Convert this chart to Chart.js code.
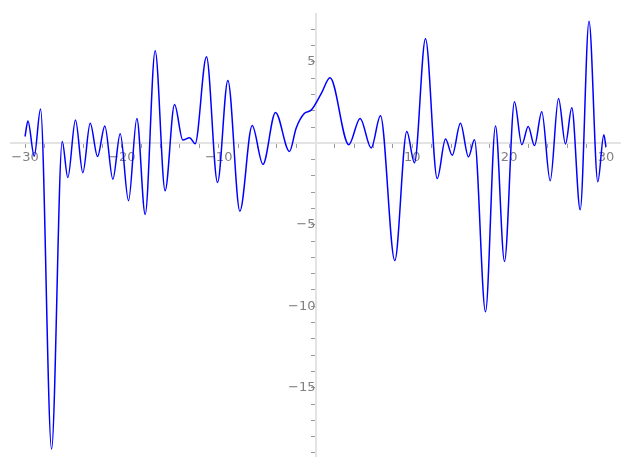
<!DOCTYPE html>
<html>
<head>
<meta charset="utf-8">
<script src="https://cdn.jsdelivr.net/npm/chart.js@4/dist/chart.umd.min.js"></script>
<style>
    html, body { margin: 0; padding: 0; background: #fff; }
    #wrap { width: 627px; height: 470px; }
</style>
</head>
<body>
<div id="wrap"><canvas id="plot"></canvas></div>
<script>
// points (mostly its turning points)
const xs = [-30.0, -29.7, -29.05, -28.4, -27.26, -26.16, -25.58, -24.79, -24.03, -23.27,
    -22.51, -21.76, -20.93, -20.17, -19.31, -18.45, -17.59, -16.56, -15.53, -14.56,
    -13.7, -13.0, -12.43, -11.26, -10.12, -9.05, -7.81, -6.54, -5.43, -4.13,
    -2.69, -2.0, -1.14, -0.45, 0.59, 1.5, 3.44, 4.61, 5.75, 6.71,
    8.19, 9.43, 10.22, 11.36, 12.57, 13.43, 14.12, 14.97, 15.8, 16.42,
    17.56, 18.59, 19.52, 20.55, 21.31, 21.97, 22.62, 23.37, 24.24, 25.1,
    25.82, 26.47, 27.34, 28.25, 29.16, 29.78, 30.0];
const ys = [0.42, 1.37, -0.79, 2.1, -18.77, 0.12, -2.1, 1.43, -1.8, 1.23,
    -0.81, 1.07, -2.2, 0.59, -3.52, 1.53, -4.36, 5.68, -2.91, 2.38,
    0.2, 0.35, -0.02, 5.31, -2.4, 3.86, -4.16, 1.09, -1.29, 1.9,
    -0.5, 0.93, 1.84, 2.04, 3.05, 4.02, -0.08, 1.53, -0.28, 1.7,
    -7.19, 0.73, -1.19, 6.42, -2.16, 0.26, -0.73, 1.23, -0.83, 0.22,
    -10.34, 1.07, -7.25, 2.55, -0.08, 1.03, -0.14, 1.94, -2.3, 2.75,
    -0.04, 2.18, -4.08, 7.5, -2.36, 0.53, -0.22];

const xLabelTicks = [-30, -20, -10, 10, 20, 30];
const yLabelTicks = [5, -5, -10, -15];

const fmt = v => (v < 0 ? '\u2212' + Math.abs(v) : String(v));
const tickFont = { family: 'DejaVu Sans', size: 13 };

const points = xs.map((x, i) => ({ x: x, y: ys[i] }));

new Chart(document.getElementById('plot'), {
    type: 'line',
    data: {
        datasets: [{
            data: points,
            borderColor: '#0000ff',
            borderWidth: 1.5,
            pointRadius: 0,
            fill: false,
            cubicInterpolationMode: 'monotone'
        }]
    },
    options: {
        responsive: true,
        maintainAspectRatio: false,
        animation: false,
        layout: { padding: { left: 11, right: 7, top: 10, bottom: 11 } },
        plugins: { legend: { display: false }, tooltip: { enabled: false } },
        scales: {
            x: {
                type: 'linear',
                position: { y: 0 },
                min: -31.45,
                max: 31.45,
                border: { color: '#e3e3e3', width: 2 },
                grid: { drawOnChartArea: false, drawTicks: true, tickLength: 4, color: '#9a9a9a', tickColor: '#9a9a9a' },
                ticks: {
                    stepSize: 2,
                    autoSkip: false,
                    includeBounds: false,
                    maxRotation: 0,
                    padding: 2,
                    color: '#808080',
                    font: tickFont,
                    callback: v => xLabelTicks.includes(v) ? fmt(v) : ''
                }
            },
            y: {
                type: 'linear',
                position: { x: 0 },
                min: -19.2,
                max: 7.95,
                border: { color: '#e3e3e3', width: 2 },
                grid: { drawOnChartArea: false, drawTicks: true, tickLength: 4, color: '#9a9a9a', tickColor: '#9a9a9a' },
                ticks: {
                    stepSize: 1,
                    autoSkip: false,
                    includeBounds: false,
                    padding: 6,
                    color: '#808080',
                    font: tickFont,
                    callback: v => yLabelTicks.includes(v) ? fmt(v) : ''
                }
            }
        }
    }
});
</script>
</body>
</html>
